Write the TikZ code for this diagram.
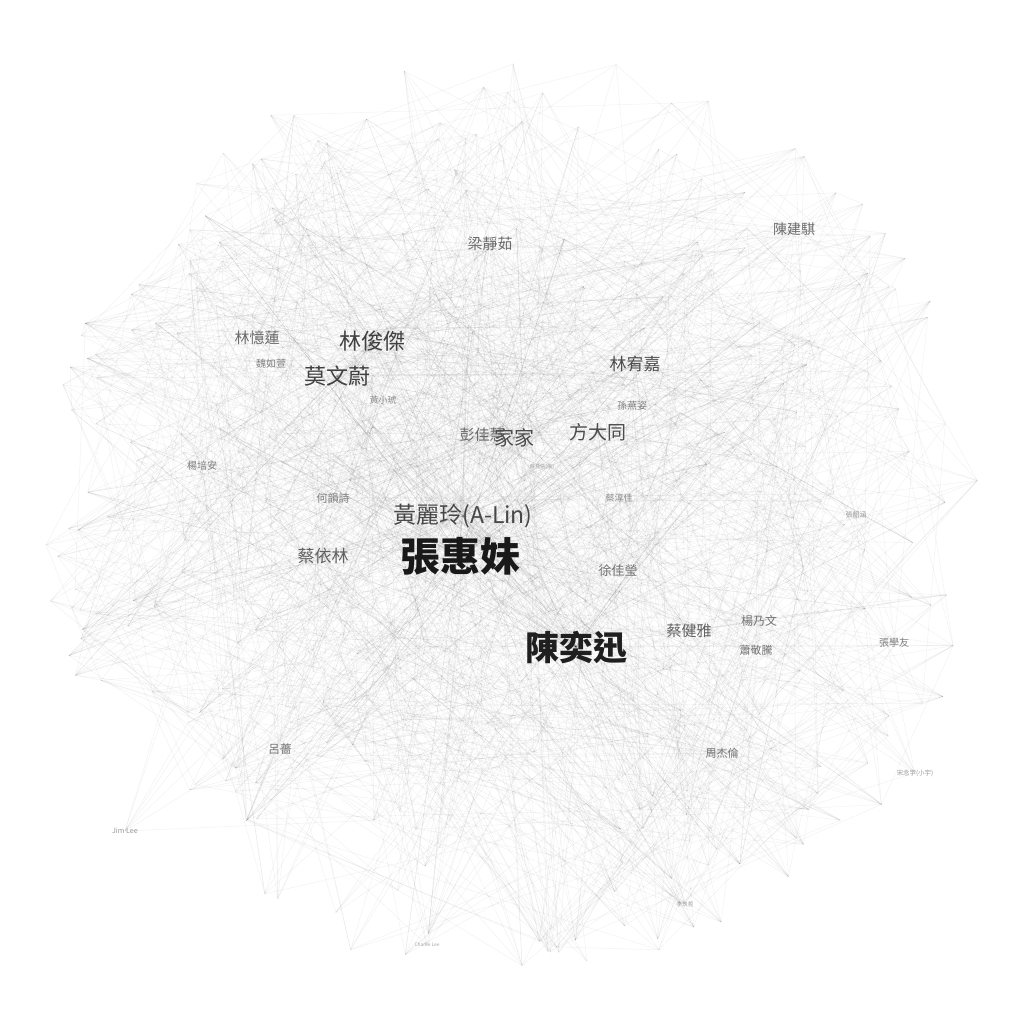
\documentclass[tikz,border=0pt]{standalone}
\usepackage{fontspec}
\setmainfont{Noto Sans CJK TC}
\usetikzlibrary{backgrounds}

\tikzset{
  link/.style={draw=black, draw opacity=0.05, line width=0.25pt},
  singer/.style={inner sep=0pt, text=#1},
}
\newcommand{\fsz}[1]{\fontsize{#1}{#1}\selectfont}

\begin{document}
\begin{tikzpicture}[x=0.5pt, y=-0.5pt]
	\useasboundingbox (0,0) rectangle (1024,1024);
	\pgfmathsetseed{4217}

	% small outer nodes
	\foreach \i in {1,...,340}{
		\pgfmathsetmacro\ang{rnd*360}
		\pgfmathsetmacro\rad{470*pow(rnd,0.4)}
		\coordinate (n\i) at ({512+\rad*cos(\ang)},{515+\rad*sin(\ang)});
	}

	% labelled singers
	\node[singer=black!90, font=\bfseries] (zhm) at (460,556) {\fsz{20}張惠妹};
	\node[singer=black!88, font=\bfseries] (cyx) at (576,647) {\fsz{17}陳奕迅};
	\node[singer=black!72] (alin) at (463,516) {\fsz{11.5}黃麗玲(A-Lin)};
	\node[singer=black!75] (ljj) at (372,341) {\fsz{11}林俊傑};
	\node[singer=black!75] (mww) at (337,376) {\fsz{11}莫文蔚};
	\node[singer=black!70] (lyj) at (635,364) {\fsz{8.5}林宥嘉};
	\node[singer=black!70] (fdt) at (598,432) {\fsz{9.5}方大同};
	\node[singer=black!58] (pjh) at (482,435) {\fsz{7.5}彭佳慧};
	\node[singer=black!70] (jj) at (514,438) {\fsz{10}家家};
	\node[singer=black!58] (ljr) at (490,244) {\fsz{7.5}梁靜茹};
	\node[singer=black!58] (cjq) at (794,229) {\fsz{7}陳建騏};
	\node[singer=black!58] (lyl) at (257,338) {\fsz{7.5}林憶蓮};
	\node[singer=black!50] (wrx) at (271,364) {\fsz{5}魏如萱};
	\node[singer=black!45] (hxh) at (383,400) {\fsz{4.5}黃小琥};
	\node[singer=black!50] (syz) at (632,406) {\fsz{5}孫燕姿};
	\node[singer=black!45] (ccj) at (619,498) {\fsz{4.5}蔡淳佳};
	\node[singer=black!50] (hys) at (333,498) {\fsz{5.5}何韻詩};
	\node[singer=black!62] (cyl) at (323,556) {\fsz{8.5}蔡依林};
	\node[singer=black!55] (xjy) at (618,571) {\fsz{6.5}徐佳瑩};
	\node[singer=black!62] (cjy) at (689,631) {\fsz{7.5}蔡健雅};
	\node[singer=black!55] (lnw) at (759,621) {\fsz{6}楊乃文};
	\node[singer=black!55] (xjt) at (756,650) {\fsz{5.5}蕭敬騰};
	\node[singer=black!50] (zxy) at (894,643) {\fsz{5}張學友};
	\node[singer=black!55] (zjl) at (722,753) {\fsz{5.5}周杰倫};
	\node[singer=black!55] (lq) at (280,749) {\fsz{5.8}呂薔};
	\node[singer=black!50] (ypa) at (202,466) {\fsz{5}楊培安};
	\node[singer=black!40] (zsh) at (856,515) {\fsz{3.5}張韶涵};
	\node[singer=black!40] (snyu) at (915,773) {\fsz{3.2}宋念宇(小宇)};
	\node[singer=black!40] (jim) at (125,831) {\fsz{3.6}Jim Lee};
	\node[singer=black!40] (ljz) at (685,904) {\fsz{2.8}李玖哲};
	\node[singer=black!35] (charlie) at (427,945) {\fsz{2.4}Charlie Lee};
	\node[singer=black!35] (sjx) at (542,467) {\fsz{2.6}蘇見信(信)};

	\begin{pgfonlayer}{background}
		\fill[white] (0,0) rectangle (1024,1024);
		% random links among small nodes
		\foreach \i in {1,...,340}{
			\foreach \k in {1,2,3}{
				\pgfmathtruncatemacro\j{random(1,340)}
				\draw[link] (n\i) -- (n\j);
			}
		}
		% links of the labelled singers
		\foreach \h/\m in {zhm/80, cyx/70, alin/50, ljj/40, mww/40, lyj/30, fdt/30,
			jj/30, pjh/22, ljr/22, cjq/18, lyl/20, wrx/12, hxh/10, syz/12, ccj/10,
			hys/12, cyl/22, xjy/15, cjy/20, lnw/14, xjt/12, zxy/12, zjl/14, lq/14,
			ypa/12, zsh/8, snyu/8, jim/8, ljz/8, charlie/6, sjx/8}{
			\foreach \k in {1,...,\m}{
				\pgfmathtruncatemacro\j{random(1,340)}
				\draw[link] (\h.center) -- (n\j);
			}
		}
	\end{pgfonlayer}
\end{tikzpicture}
\end{document}
